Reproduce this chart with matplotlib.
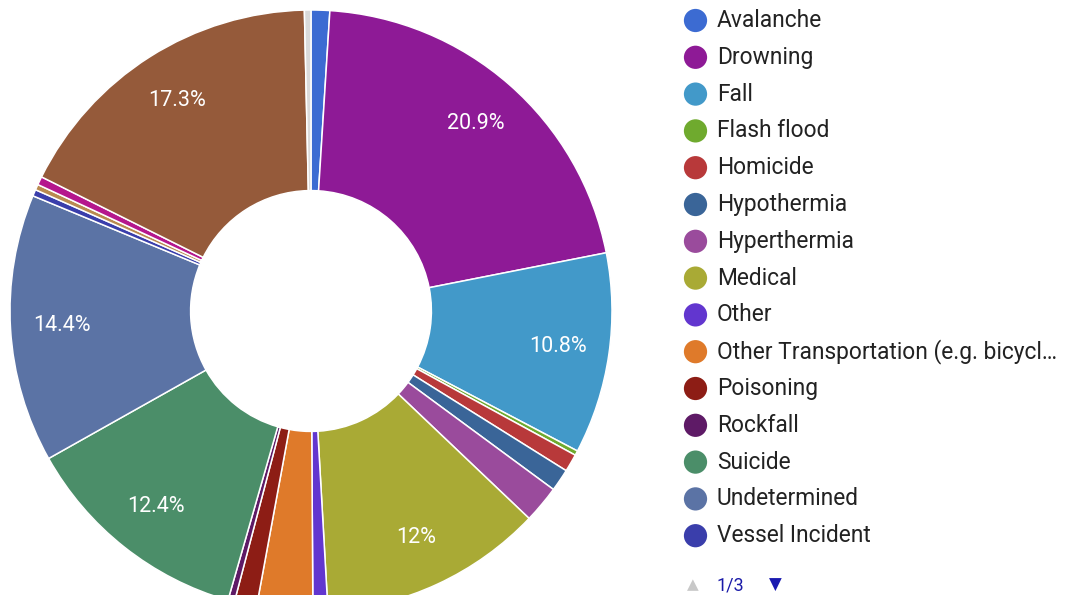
import matplotlib
matplotlib.use("Agg")
import matplotlib.pyplot as plt

# ---- data ----
categories = ["Avalanche", "Drowning", "Fall", "Flash flood", "Homicide",
              "Hypothermia", "Hyperthermia", "Medical", "Other",
              "Other Transportation (e.g. bicycl\u2026", "Poisoning", "Rockfall",
              "Suicide", "Undetermined", "Vessel Incident",
              "Wildlife", "Wilderness Travel", "Motor Vehicle Crash", "Remaining"]
shares = [1.0, 20.9, 10.8, 0.25, 0.95,
          1.2, 2.0, 12.0, 0.8,
          3.0, 1.2, 0.35,
          12.4, 14.4, 0.35,
          0.3, 0.45, 17.3, 0.35]
colors = ["#3c6bd2", "#8e1a96", "#4299c9", "#6faa2e", "#b8393a",
          "#3a6598", "#9a4b9c", "#a9aa35", "#6236cf",
          "#df7a2a", "#8d1d15", "#5e1a66",
          "#4b8e69", "#5b73a5", "#3a3eab",
          "#b98a50", "#b5178d", "#955a3a", "#dadada"]
legend_count = 15
page_text = "1/3"
label_threshold = 5.0

W, H = 1066, 595
fig = plt.figure(figsize=(W / 100, H / 100), dpi=100)
fig.patch.set_facecolor("white")

# ---- donut ----
cx, cy, R = 311, 311, 301
ax = fig.add_axes([(cx - R) / W, (H - cy - R) / H, 2 * R / W, 2 * R / H])


def fmt(p):
    if p < label_threshold:
        return ""
    s = f"{p:.1f}"
    if s.endswith(".0"):
        s = s[:-2]
    return s + "%"


wedges, texts, autotexts = ax.pie(
    shares, colors=colors, startangle=90, counterclock=False, radius=1.0,
    autopct=fmt, pctdistance=0.83,
    wedgeprops=dict(width=0.6, edgecolor="white", linewidth=1.1),
    textprops=dict(color="white", fontsize=15.5, family="Roboto"))
ax.set_xlim(-1, 1)
ax.set_ylim(-1, 1)
ax.set_aspect("equal")
ax.axis("off")

# ---- legend ----
lax = fig.add_axes([0, 0, 1, 1])
lax.set_xlim(0, W)
lax.set_ylim(H, 0)
lax.axis("off")
y0, dy = 20.5, 36.8
for i in range(legend_count):
    y = y0 + i * dy
    lax.scatter([695.5], [y], s=280, color=colors[i], edgecolors="none")
    lax.text(717, y, categories[i], fontsize=16.4, family="Roboto",
             color="#222222", va="center", ha="left")

# pager (at the bottom edge)
lax.text(693, 585, "\u25b2", fontsize=11, color="#c8c8c8", ha="center", va="center")
lax.text(717, 585, page_text, fontsize=13, family="Roboto", color="#1a1aa8",
         ha="left", va="center")
lax.text(775, 585, "\u25bc", fontsize=12, color="#1a1ab0", ha="center", va="center")

fig.savefig("out.png", dpi=100)
